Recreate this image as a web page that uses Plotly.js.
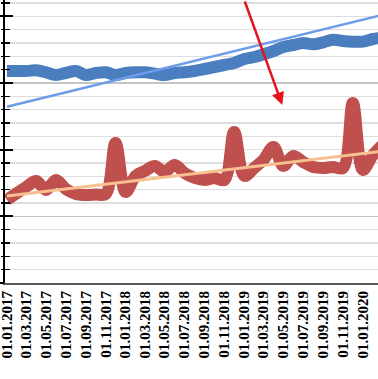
<!DOCTYPE html>
<html><head><meta charset="utf-8">
<script src="https://cdn.plot.ly/plotly-3.0.1.min.js"></script>
<style>html,body{margin:0;padding:0;background:#fff;overflow:hidden}#chart{width:378px;height:379px}</style>
</head><body><div id="chart"></div>
<script>
const months = ['2017-01-01','2017-02-01','2017-03-01','2017-04-01','2017-05-01','2017-06-01','2017-07-01','2017-08-01','2017-09-01','2017-10-01','2017-11-01','2017-12-01',
'2018-01-01','2018-02-01','2018-03-01','2018-04-01','2018-05-01','2018-06-01','2018-07-01','2018-08-01','2018-09-01','2018-10-01','2018-11-01','2018-12-01',
'2019-01-01','2019-02-01','2019-03-01','2019-04-01','2019-05-01','2019-06-01','2019-07-01','2019-08-01','2019-09-01','2019-10-01','2019-11-01','2019-12-01',
'2020-01-01','2020-02-01','2020-03-01'];
const blueValues = [159,159,159,159.5,158,156,157.5,159,156,157.5,158,156,
157.5,158,158,157,156,157.5,158,159,160.5,162,163.5,165,
168,169.5,171.5,174,177,178.5,180,179,180.5,182.5,181.5,181,
181,183,184];
const redValues = [62.3,67.5,72,76.5,69.8,77.3,70.5,66.8,66,66.4,66.8,105,
68.3,80.3,84,87.8,83.3,88.5,82.5,78.8,77.3,78.8,77.3,113.3,
80.3,86.3,92.3,102,87.8,95.3,90.8,87,86.3,87,86.3,135,
84.8,96,103.5];
const trendDates = ['2017-01-01','2020-04-01'];
const blueTrend = [132.2,202.9];
const redTrend = [65.3,99.8];
const tickDates = ['2017-01-01','2017-03-01','2017-05-01','2017-07-01','2017-09-01','2017-11-01',
'2018-01-01','2018-03-01','2018-05-01','2018-07-01','2018-09-01','2018-11-01',
'2019-01-01','2019-03-01','2019-05-01','2019-07-01','2019-09-01','2019-11-01','2020-01-01'];
const tickLabels = ['01.01.2017','01.03.2017','01.05.2017','01.07.2017','01.09.2017','01.11.2017',
'01.01.2018','01.03.2018','01.05.2018','01.07.2018','01.09.2018','01.11.2018',
'01.01.2019','01.03.2019','01.05.2019','01.07.2019','01.09.2019','01.11.2019','01.01.2020'];

const traces = [
  {x:months, y:blueValues, type:'scatter', mode:'lines', line:{color:'#4a7ebf', width:12, shape:'spline', smoothing:1}, hoverinfo:'skip'},
  {x:months, y:redValues, type:'scatter', mode:'lines', line:{color:'#c0504d', width:12, shape:'spline', smoothing:1}, hoverinfo:'skip'},
  {x:trendDates, y:blueTrend, type:'scatter', mode:'lines', line:{color:'#6d9ceb', width:2.5}, hoverinfo:'skip'},
  {x:trendDates, y:redTrend, type:'scatter', mode:'lines', line:{color:'#f8c090', width:3}, hoverinfo:'skip'},
  {x:[], y:[], type:'scatter', yaxis:'y2', hoverinfo:'skip'},
  {x:[], y:[], type:'scatter', yaxis:'y3', hoverinfo:'skip'}
];
const yr = [0,212.25];
const layout = {
  width:378, height:379,
  margin:{l:5, r:0, t:0, b:96},
  paper_bgcolor:'#ffffff', plot_bgcolor:'#ffffff',
  showlegend:false,
  font:{family:'Liberation Serif', color:'#000'},
  xaxis:{type:'date', range:['2016-12-26','2020-02-16 12:00'], tickvals:tickDates, ticktext:tickLabels,
    tickangle:-90, ticklabeloverflow:'allow', tickfont:{family:'Liberation Serif', size:15, color:'#000', weight:'bold'},
    showline:true, linecolor:'#5a5a5a', linewidth:2, ticks:'', showgrid:false, zeroline:false},
  yaxis:{range:yr, tick0:50, dtick:100, showgrid:true, gridcolor:'#c4c4c4', gridwidth:1.5,
    ticks:'', showticklabels:false, showline:true, linecolor:'#000', linewidth:2, zeroline:false,
    minor:{tick0:0, dtick:10, showgrid:true, gridcolor:'#dedede', gridwidth:1.3}},
  yaxis2:{overlaying:'y', range:yr, tick0:0, dtick:50, ticks:'outside', ticklen:5, tickwidth:2, tickcolor:'#000',
    showgrid:false, showticklabels:false, showline:false, zeroline:false,
    minor:{tick0:0, dtick:10, ticks:'outside', ticklen:3, tickwidth:1.5, tickcolor:'#000', showgrid:false}},
  yaxis3:{overlaying:'y', range:yr, tick0:0, dtick:50, ticks:'inside', ticklen:8, tickwidth:2, tickcolor:'#000',
    showgrid:false, showticklabels:false, showline:false, zeroline:false,
    minor:{tick0:0, dtick:10, ticks:'inside', ticklen:5, tickwidth:1.5, tickcolor:'#000', showgrid:false}},
  annotations:[{x:'2019-04-28', y:133.5, xref:'x', yref:'y', text:'', showarrow:true,
    arrowhead:2, arrowsize:1, arrowwidth:2.5, arrowcolor:'#e3141b', ax:-38, ay:-110, standoff:0}]
};
Plotly.newPlot('chart', traces, layout, {staticPlot:true, displayModeBar:false});
</script></body></html>
